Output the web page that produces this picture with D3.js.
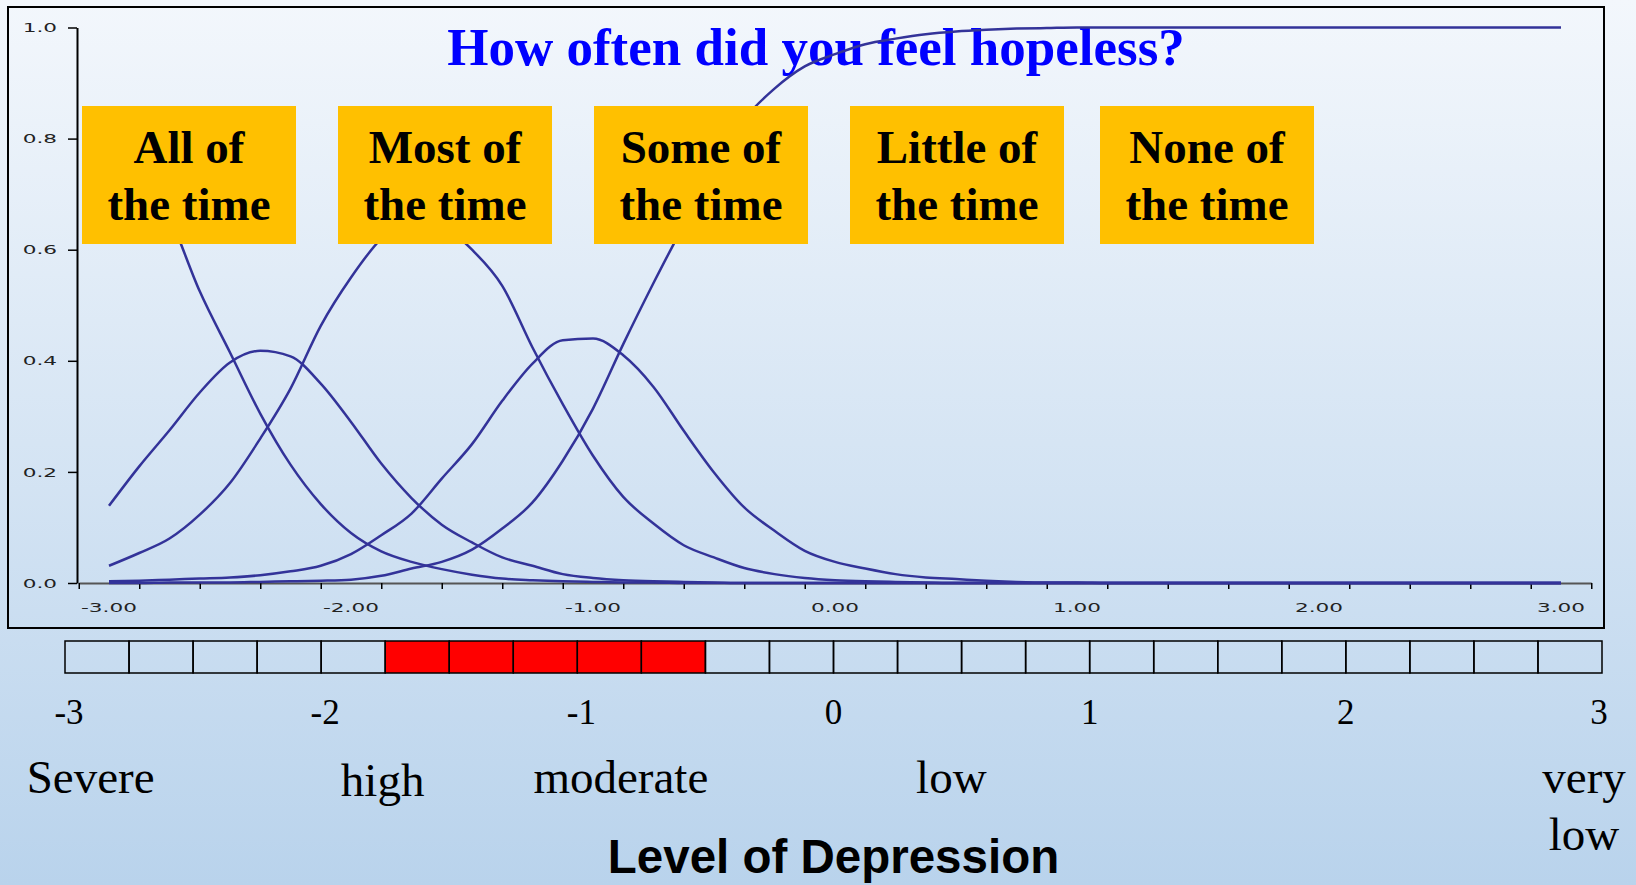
<!DOCTYPE html>
<html>
<head>
<meta charset="utf-8">
<script src="https://cdn.jsdelivr.net/npm/d3@7"></script>
<style>
  body { margin: 0; overflow: hidden; }
  svg { display: block; }
</style>
</head>
<body>
<div id="chart"></div>
<script>

var thetaPoints = [-3, -2.875, -2.75, -2.625, -2.5, -2.375, -2.25, -2.125, -2, -1.875, -1.75, -1.625,
    -1.5, -1.375, -1.25, -1.125, -1, -0.875, -0.75, -0.625, -0.5, -0.375, -0.25, -0.125,
    0, 0.125, 0.25, 0.375, 0.5, 0.625, 0.75, 0.875, 1, 1.125, 1.25, 1.375, 1.5, 1.625,
    1.75, 1.875, 2, 2.125, 2.25, 2.375, 2.5, 2.625, 2.75, 2.875, 3];

// category response probabilities
var allOfTime = [0.83, 0.76, 0.66, 0.525, 0.415, 0.305, 0.213, 0.142, 0.09, 0.057, 0.038, 0.025,
    0.015, 0.008, 0.005, 0.003, 0.002, 0.001, 0.001, 0, 0, 0, 0, 0,
    0, 0, 0, 0, 0, 0, 0, 0, 0, 0, 0, 0, 0, 0, 0, 0, 0, 0, 0, 0, 0, 0, 0, 0, 0];
var mostOfTime = [0.139, 0.21, 0.275, 0.343, 0.397, 0.418, 0.408, 0.359, 0.29, 0.215, 0.153, 0.105,
    0.073, 0.046, 0.031, 0.016, 0.009, 0.005, 0.003, 0.002, 0.001, 0, 0, 0,
    0, 0, 0, 0, 0, 0, 0, 0, 0, 0, 0, 0, 0, 0, 0, 0, 0, 0, 0, 0, 0, 0, 0, 0, 0];
var someOfTime = [0.031, 0.054, 0.08, 0.123, 0.18, 0.26, 0.35, 0.463, 0.55, 0.62, 0.66, 0.645,
    0.60, 0.535, 0.424, 0.322, 0.229, 0.155, 0.107, 0.068, 0.046, 0.027, 0.016, 0.009,
    0.005, 0.003, 0.002, 0.001, 0, 0, 0, 0, 0, 0, 0, 0, 0, 0, 0, 0, 0, 0, 0, 0, 0, 0, 0, 0, 0];
var littleOfTime = [0.003, 0.004, 0.006, 0.008, 0.01, 0.014, 0.021, 0.031, 0.052, 0.086, 0.125, 0.188,
    0.25, 0.328, 0.395, 0.437, 0.44, 0.41, 0.353, 0.274, 0.199, 0.136, 0.094, 0.058,
    0.038, 0.026, 0.016, 0.01, 0.007, 0.004, 0.002, 0.001, 0.001, 0, 0, 0, 0, 0,
    0, 0, 0, 0, 0, 0, 0, 0, 0, 0, 0];
var noneOfTime = [0, 0, 0.001, 0.001, 0.001, 0.002, 0.003, 0.004, 0.006, 0.013, 0.026, 0.038,
    0.06, 0.098, 0.145, 0.22, 0.314, 0.43, 0.54, 0.645, 0.75, 0.835, 0.89, 0.93,
    0.952, 0.97, 0.98, 0.988, 0.993, 0.996, 0.998, 0.999, 1, 1, 1, 1, 1, 1,
    1, 1, 1, 1, 1, 1, 1, 1, 1, 1, 1];

var boxLabels = [["All of", "the time"], ["Most of", "the time"], ["Some of", "the time"],
    ["Little of", "the time"], ["None of", "the time"]];

var yTickValues = [0, 0.2, 0.4, 0.6, 0.8, 1.0];
var xLabelValues = [-3, -2, -1, 0, 1, 2, 3];

// lower depression ruler
var rulerNumbers = [-3, -2, -1, 0, 1, 2, 3];
var highlightRange = [-1.75, -0.5];
var levelLabels = [["Severe"], ["high"], ["moderate"], ["low"], ["very", "low"]];
var levelAnchors = [-2.9, -1.76, -0.83, 0.46, 2.93];

var titleText = "How often did you feel hopeless?";
var axisTitle = "Level of Depression";

drawChart();

function drawChart(){

    var width = 1636, height = 885;

    var svg = d3.select("#chart")
        .append("svg")
        .attr("width", width)
        .attr("height", height);

    // background gradient
    var grad = svg.append("defs").append("linearGradient")
        .attr("id", "bg").attr("x1", 0).attr("y1", 0).attr("x2", 0).attr("y2", 1);
    grad.append("stop").attr("offset", "0%").attr("stop-color", "#f3f7fc");
    grad.append("stop").attr("offset", "100%").attr("stop-color", "#b9d3ec");
    svg.append("rect").attr("width", width).attr("height", height).attr("fill", "url(#bg)");

    // chart frame
    svg.append("rect")
        .attr("x", 8).attr("y", 7).attr("width", 1596).attr("height", 621)
        .attr("fill", "none").attr("stroke", "#000").attr("stroke-width", 2);

    var x = d3.scaleLinear().domain([-3, 3]).range([109, 1561]);
    var y = d3.scaleLinear().domain([0, 1]).range([583, 27.5]);

    var stretch = function(sel, k){
        sel.each(function(){
            var w = this.getComputedTextLength();
            d3.select(this).attr("textLength", w * k).attr("lengthAdjust", "spacingAndGlyphs");
        });
    };

    // y axis
    var yAxis = d3.axisLeft(y).tickValues(yTickValues).tickSize(9).tickSizeOuter(0).tickPadding(11)
        .tickFormat(function(d){ return d.toFixed(1); });
    var yg = svg.append("g")
        .attr("transform", "translate(77,0)")
        .call(yAxis);
    yg.select(".domain").attr("stroke", "#000").attr("stroke-width", 2);
    yg.selectAll(".tick line").attr("stroke", "#000").attr("stroke-width", 1.5);
    yg.selectAll("text")
        .attr("font-family", "DejaVu Sans").attr("font-size", 13).attr("fill", "#222")
        .call(stretch, 1.66);

    // x axis: ticks sit on the category boundaries
    var xEdge = x.copy().domain([-3.125, 3.125]).range([x(-3.125), x(3.125)]);
    var xAxis = d3.axisBottom(xEdge).tickValues(d3.range(-3.125, 3.2, 0.25))
        .tickSize(6).tickSizeOuter(0).tickFormat("");
    var xg = svg.append("g")
        .attr("transform", "translate(0,583)")
        .call(xAxis);
    xg.select(".domain").attr("stroke", "#555").attr("stroke-width", 2);
    xg.selectAll(".tick line").attr("stroke", "#000").attr("stroke-width", 1.5);

    svg.append("g").selectAll("text").data(xLabelValues).enter().append("text")
        .attr("x", function(d){ return x(d); })
        .attr("y", 612)
        .attr("text-anchor", "middle")
        .attr("font-family", "DejaVu Sans").attr("font-size", 13).attr("fill", "#222")
        .text(function(d){ return d.toFixed(2); })
        .call(stretch, 1.66);

    // title
    svg.append("text")
        .attr("x", 816).attr("y", 65)
        .attr("text-anchor", "middle")
        .attr("font-family", "Liberation Serif").attr("font-weight", "bold")
        .attr("font-size", 53).attr("fill", "#0000ff")
        .text(titleText);

    // probability curves
    var series = [allOfTime, mostOfTime, someOfTime, littleOfTime, noneOfTime];
    var line = d3.line()
        .x(function(d, i){ return x(thetaPoints[i]); })
        .y(function(d){ return y(d); })
        .curve(d3.curveMonotoneX);

    svg.append("g").selectAll("path").data(series).enter().append("path")
        .attr("d", line)
        .attr("fill", "none")
        .attr("stroke", "#333399")
        .attr("stroke-width", 2.5);

    // orange category boxes
    var boxLeft = [82, 338, 594, 850, 1100];
    var boxes = svg.append("g").selectAll("g").data(boxLabels).enter().append("g")
        .attr("transform", function(d, i){ return "translate(" + boxLeft[i] + ",106)"; });
    boxes.append("rect")
        .attr("width", 214).attr("height", 138)
        .attr("fill", "#ffc000");
    boxes.selectAll("text").data(function(d){ return d; }).enter().append("text")
        .attr("x", 107)
        .attr("y", function(d, i){ return 57 + i * 57; })
        .attr("text-anchor", "middle")
        .attr("font-family", "Liberation Serif").attr("font-weight", "bold")
        .attr("font-size", 47).attr("fill", "#000")
        .text(function(d){ return d; });

    // depression ruler below the chart
    var barX = d3.scaleLinear().domain([-3, 3]).range([65, 1602]);
    var cells = d3.range(-3, 3, 0.25);
    svg.append("g").selectAll("rect").data(cells).enter().append("rect")
        .attr("x", function(d){ return barX(d); })
        .attr("y", 641)
        .attr("width", function(d){ return barX(d + 0.25) - barX(d); })
        .attr("height", 32)
        .attr("fill", function(d){ return (d >= highlightRange[0] - 1e-9 && d < highlightRange[1] - 1e-9) ? "#ff0000" : "none"; })
        .attr("stroke", "#000").attr("stroke-width", 1.5);

    svg.append("g").selectAll("text").data(rulerNumbers).enter().append("text")
        .attr("x", function(d){ return barX(d) + (d < 0 ? 4 : 0) - (d == 3 ? 3 : 0); })
        .attr("y", 724)
        .attr("text-anchor", "middle")
        .attr("font-family", "Liberation Serif").attr("font-size", 35).attr("fill", "#000")
        .text(function(d){ return d < 0 ? "-" + Math.abs(d) : d; });

    var levels = svg.append("g").selectAll("text").data(levelLabels).enter().append("text")
        .attr("x", function(d, i){ return barX(levelAnchors[i]); })
        .attr("y", function(d){ return d[0] == "high" ? 796 : 793; })
        .attr("text-anchor", "middle")
        .attr("font-family", "Liberation Serif").attr("font-size", 47).attr("fill", "#000");
    levels.selectAll("tspan").data(function(d){ return d; }).enter().append("tspan")
        .attr("x", function(){ return d3.select(this.parentNode).attr("x"); })
        .attr("dy", function(d, i){ return i == 0 ? 0 : 57; })
        .text(function(d){ return d; });

    svg.append("text")
        .attr("x", barX(0)).attr("y", 873)
        .attr("text-anchor", "middle")
        .attr("font-family", "Liberation Sans").attr("font-weight", "bold")
        .attr("font-size", 47.5).attr("fill", "#000")
        .text(axisTitle);
}
</script>
</body>
</html>
